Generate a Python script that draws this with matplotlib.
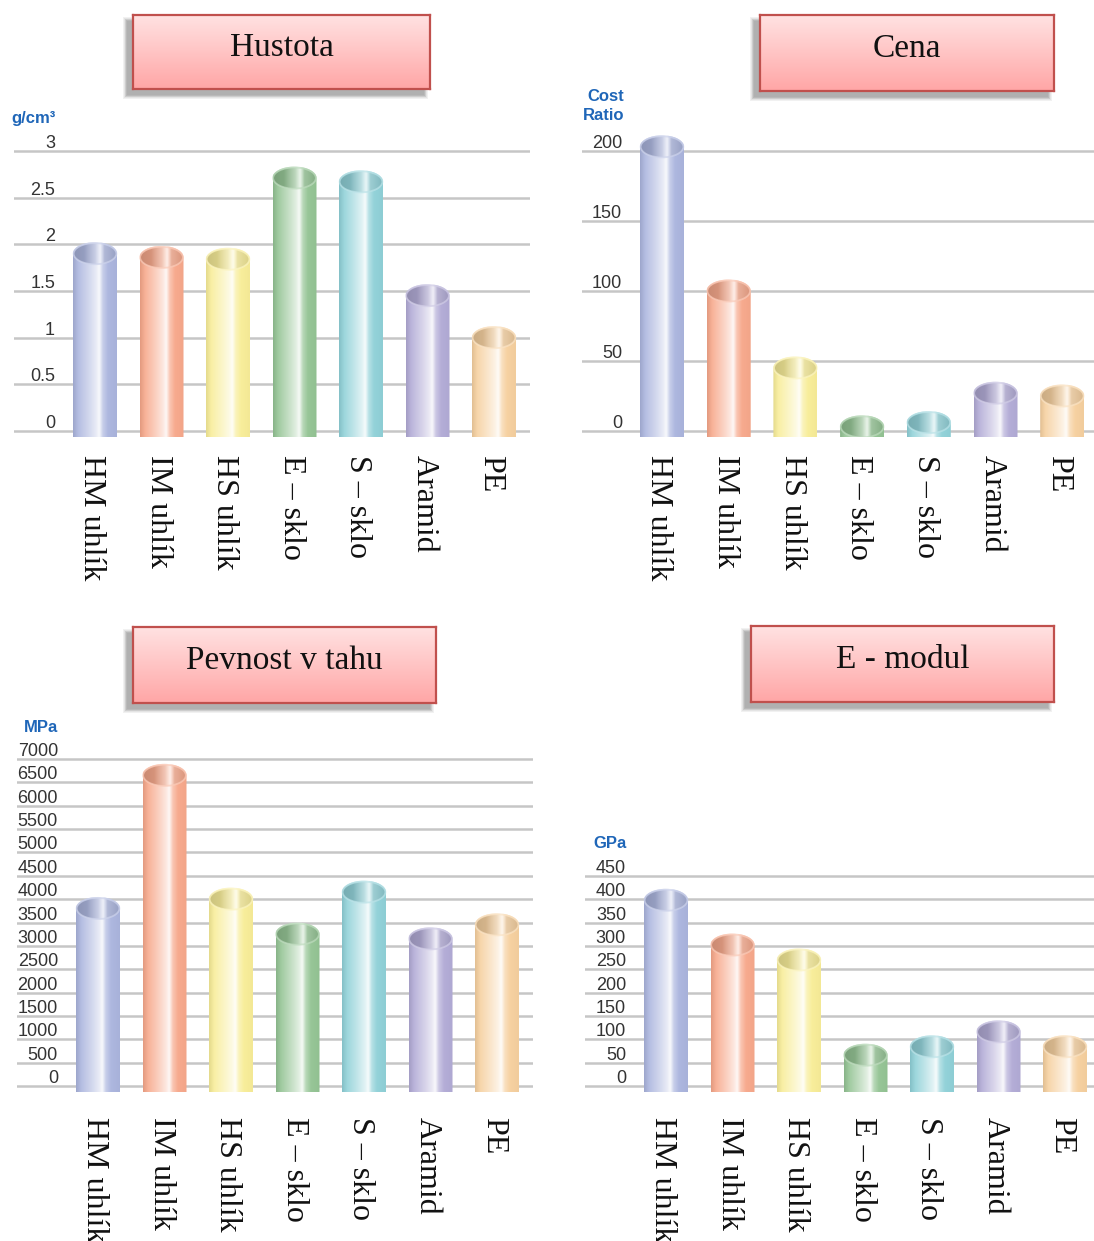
import numpy as np
import matplotlib
matplotlib.use("Agg")
import matplotlib.pyplot as plt
import matplotlib.transforms as mtransforms
from matplotlib.path import Path
from matplotlib.patches import PathPatch, Ellipse, Rectangle
from matplotlib.colors import to_rgb

# ========== DATA ==========
categories = ["HM uhlík", "IM uhlík", "HS uhlík", "E – sklo", "S – sklo", "Aramid", "PE"]
bar_colors = ["#abb5de", "#f7a88b", "#f8ed98", "#94c494", "#90d1d8", "#b2abd6", "#f6d09f"]

titles = ["Hustota", "Cena", "Pevnost v tahu", "E - modul"]
units = ["g/cm³", "Cost\nRatio", "MPa", "GPa"]

density = [1.90, 1.86, 1.84, 2.71, 2.67, 1.45, 1.00]
density_ticks = [0, 0.5, 1, 1.5, 2, 2.5, 3]
density_labels = ["0", "0.5", "1", "1.5", "2", "2.5", "3"]

cost = [203, 100, 45, 3, 6, 27, 25]
cost_ticks = [0, 50, 100, 150, 200]
cost_labels = ["0", "50", "100", "150", "200"]

strength = [3800, 6650, 4000, 3250, 4150, 3150, 3450]
strength_ticks = [0, 500, 1000, 1500, 2000, 2500, 3000, 3500,
                  4000, 4500, 5000, 5500, 6000, 6500, 7000]
strength_labels = [str(t) for t in strength_ticks]

modulus = [398, 302, 270, 66, 84, 116, 84]
modulus_ticks = [0, 50, 100, 150, 200, 250, 300, 350, 400, 450]
modulus_labels = [str(t) for t in modulus_ticks]

# ========== LAYOUT (pixels) ==========
W, H = 1094, 1241
GRID_COLOR = "#c6c6c6"
TICK_COLOR = "#333333"
UNIT_COLOR = "#1f66b8"
SERIF = ["Liberation Serif", "DejaVu Serif"]
SANS = ["Liberation Sans", "DejaVu Sans"]
NARROW = ["Liberation Sans Narrow", "Liberation Sans", "DejaVu Sans"]

# x range, zero line, top tick line, first bar centre, bar step, tick label right edge,
# unit label anchor, title box, top of category labels, axes top
PANELS = [
    dict(x0=14, x1=530, zero=431, top=151, c0=95, step=66.5, tick_x=55,
         unit_xy=(56, 118), box=(133, 15, 430, 89), lab_y=455, axtop=125),
    dict(x0=582, x1=1094, zero=431, top=151, c0=662, step=66.7, tick_x=622,
         unit_xy=(624, 106), box=(760, 15, 1054, 91), lab_y=455, axtop=125),
    dict(x0=17, x1=533, zero=1086, top=759, c0=98, step=66.5, tick_x=58,
         unit_xy=(58, 727), box=(133, 627, 436, 703), lab_y=1117, axtop=735),
    dict(x0=585, x1=1094, zero=1086, top=876, c0=666, step=66.5, tick_x=626,
         unit_xy=(627, 843), box=(751, 626, 1054, 702), lab_y=1117, axtop=855),
]
BOTTOM_EXTRA = 6   # bars reach a little below the zero line
BAR_PX = 44
ELL_HALF_PX = 11.5

fig = plt.figure(figsize=(W / 100, H / 100), dpi=100)
fig.patch.set_facecolor("white")


def fx(px):
    return px / W


def fy(py):
    return 1 - py / H


def profile(base, stops, white, dark, n=80):
    t = np.linspace(0, 1, n)
    w = np.interp(t, stops, white)[:, None]
    d = np.interp(t, stops, dark)[:, None]
    b = np.array(to_rgb(base))[None, :]
    c = b * (1 - d)
    c = c * (1 - w) + w
    return np.clip(c, 0, 1)[None, :, :]


BODY_STOPS = [0, 0.12, 0.35, 0.52, 0.6, 0.68, 0.8, 1.0]
BODY_WHITE = [0.0, 0.12, 0.45, 0.72, 0.92, 0.35, 0.03, 0.0]
BODY_DARK = [0.08, 0.0, 0, 0, 0, 0, 0, 0.02]
TOP_STOPS = [0, 0.25, 0.5, 0.62, 0.72, 1.0]
TOP_WHITE = [0.0, 0.02, 0.4, 0.8, 0.2, 0.0]
TOP_DARK = [0.18, 0.14, 0.06, 0, 0.08, 0.12]


def cylinder(ax, xc, val, y0, w, eh, color):
    x0, x1 = xc - w / 2, xc + w / 2
    a = np.linspace(np.pi, 0, 40)
    verts = [(x0, y0), (x0, val)]
    verts += list(zip(xc + w / 2 * np.cos(a), val + eh * np.sin(a)))
    verts += [(x1, y0), (x0, y0)]
    codes = [Path.MOVETO] + [Path.LINETO] * (len(verts) - 2) + [Path.CLOSEPOLY]
    body = PathPatch(Path(verts, codes), fc="none", ec="none", transform=ax.transData)
    ax.add_patch(body)
    im = ax.imshow(profile(color, BODY_STOPS, BODY_WHITE, BODY_DARK),
                   extent=(x0, x1, y0, val + eh), aspect="auto",
                   interpolation="bilinear", zorder=3)
    im.set_clip_path(body)

    # open top of the tube
    top = Ellipse((xc, val), w * 0.96, 2 * eh * 0.9, fc="none", ec="none",
                  transform=ax.transData)
    ax.add_patch(top)
    im2 = ax.imshow(profile(color, TOP_STOPS, TOP_WHITE, TOP_DARK),
                    extent=(x0, x1, val - eh, val + eh), aspect="auto",
                    interpolation="bilinear", zorder=4)
    im2.set_clip_path(top)
    rim = np.array(to_rgb(color)) * 0.6 + 0.4
    ax.add_patch(Ellipse((xc, val), w * 0.97, 2 * eh * 0.92, fc="none",
                         ec=tuple(rim), lw=1.3, alpha=0.7, zorder=5))


def title_box(box, text):
    x0, y0, x1, y1 = box
    # soft shadow to the lower left
    for k in range(7):
        fig.add_artist(Rectangle((fx(x0 - 6 - k * 0.6), fy(y1 + 6 + k * 0.6)),
                                 (x1 - x0 + k * 1.2) / W, (y1 - y0 + k * 1.2) / H,
                                 transform=fig.transFigure, fc="#505050",
                                 ec="none", alpha=0.08, zorder=1))
    bax = fig.add_axes([fx(x0), fy(y1), (x1 - x0) / W, (y1 - y0) / H], zorder=2)
    grad = np.linspace(0, 1, 100)[:, None]
    top_c = np.array(to_rgb("#ffe2e2"))
    bot_c = np.array(to_rgb("#ffa6a6"))
    img = top_c[None, None, :] * (1 - grad[:, :, None]) + bot_c[None, None, :] * grad[:, :, None]
    bax.imshow(img, extent=(0, 1, 0, 1), aspect="auto", interpolation="bilinear")
    bax.set_xlim(0, 1)
    bax.set_ylim(0, 1)
    bax.set_xticks([])
    bax.set_yticks([])
    for s in bax.spines.values():
        s.set_color("#c0504d")
        s.set_linewidth(1.6)
    bax.text(0.5, 0.56, text, ha="center", va="center", fontsize=24,
             family=SERIF, color="#111111", transform=bax.transAxes)


def panel(p, values, ticks, labels, unit, title):
    pxper = (p["zero"] - p["top"]) / ticks[-1]
    bot_px = p["zero"] + BOTTOM_EXTRA
    ax = fig.add_axes([fx(p["x0"]), fy(bot_px), (p["x1"] - p["x0"]) / W,
                       (bot_px - p["axtop"]) / H])
    ax.axis("off")
    ylo = (p["zero"] - bot_px) / pxper
    yhi = (p["zero"] - p["axtop"]) / pxper
    xlo = (p["x0"] - p["c0"]) / p["step"]
    xhi = (p["x1"] - p["c0"]) / p["step"]

    for t in ticks:
        ax.axhline(t, color=GRID_COLOR, lw=1.8, zorder=1)

    w = BAR_PX / p["step"]
    eh = ELL_HALF_PX / pxper
    for i, (v, c) in enumerate(zip(values, bar_colors)):
        cylinder(ax, i, v, ylo, w, eh, c)

    ax.set_xlim(xlo, xhi)
    ax.set_ylim(ylo, yhi)

    # tick labels sit just above their grid lines
    tt = mtransforms.blended_transform_factory(fig.transFigure, ax.transData) + \
        mtransforms.ScaledTranslation(0, 3 / 100, fig.dpi_scale_trans)
    for t, lab in zip(ticks, labels):
        ax.text(fx(p["tick_x"]), t, lab, transform=tt, ha="right", va="baseline",
                fontsize=13, family=SANS, color=TICK_COLOR, clip_on=False)

    ux, uy = p["unit_xy"]
    fig.text(fx(ux), fy(uy), unit, ha="right", va="center", fontsize=12,
             family=NARROW, weight="bold", color=UNIT_COLOR, linespacing=1.3)

    lt = mtransforms.blended_transform_factory(ax.transData, fig.transFigure)
    for i, cat in enumerate(categories):
        ax.text(i - 0.05, fy(p["lab_y"]), cat, transform=lt, rotation=270,
                ha="center", va="top", fontsize=23, family=SERIF,
                color="#111111", clip_on=False)

    title_box(p["box"], title)
    return ax


panel(PANELS[0], density, density_ticks, density_labels, units[0], titles[0])
panel(PANELS[1], cost, cost_ticks, cost_labels, units[1], titles[1])
panel(PANELS[2], strength, strength_ticks, strength_labels, units[2], titles[2])
panel(PANELS[3], modulus, modulus_ticks, modulus_labels, units[3], titles[3])

fig.savefig("out.png", dpi=100, facecolor="white")
